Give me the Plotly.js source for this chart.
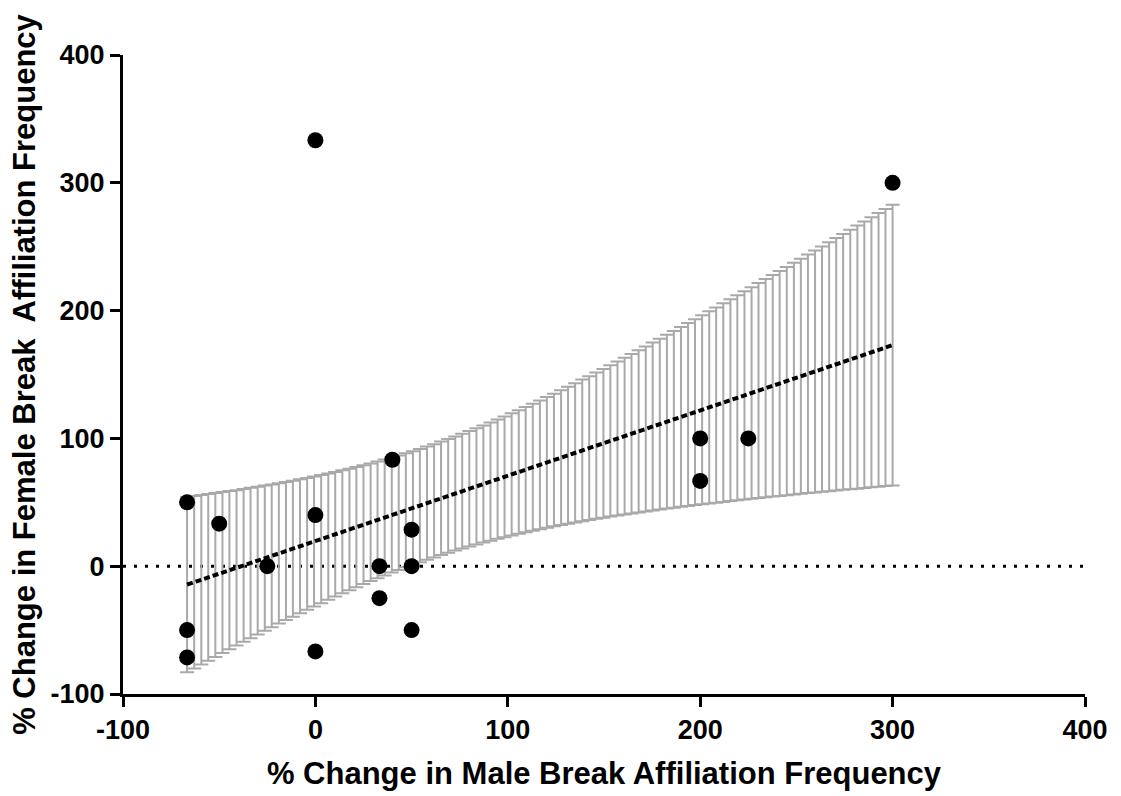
<!DOCTYPE html>
<html><head><meta charset="utf-8">
<script src="https://cdn.plot.ly/plotly-3.0.1.min.js"></script>
<style>html,body{margin:0;padding:0;background:#fff}#chart{width:1121px;height:796px}</style>
</head><body><div id="chart"></div>
<script>
// Scatter data: % change in male vs female break affiliation frequency
const maleChange = [-66.7,-66.7,-66.7,-50,-25,0,0,0,33.3,33.3,40,50,50,50,200,200,225,300];
const femaleChange = [50,-50,-71.4,33.3,0,333.3,40,-66.7,0,-25,83.3,28.6,0,-50,100,66.7,100,300];

// Linear fit endpoints
const fitX = [-66.7, 300];
const fitY = [-14.4, 173.0];

// 95% confidence band
const bandX = [-66.7,-63.0,-59.3,-55.7,-52.0,-48.3,-44.7,-41.0,-37.3,-33.7,
-30.0,-26.3,-22.7,-19.0,-15.3,-11.7,-8.0,-4.3,-0.7,3.0,
6.7,10.3,14.0,17.7,21.3,25.0,28.7,32.3,36.0,39.7,
43.3,47.0,50.7,54.3,58.0,61.7,65.3,69.0,72.7,76.3,
80.0,83.7,87.3,91.0,94.7,98.3,102.0,105.7,109.3,113.0,
116.7,120.3,124.0,127.7,131.3,135.0,138.7,142.3,146.0,149.7,
153.3,157.0,160.7,164.3,168.0,171.7,175.3,179.0,182.7,186.3,
190.0,193.7,197.3,201.0,204.7,208.3,212.0,215.7,219.3,223.0,
226.7,230.3,234.0,237.7,241.3,245.0,248.7,252.3,256.0,259.7,
263.3,267.0,270.7,274.3,278.0,281.7,285.3,289.0,292.7,296.3,
300.0];
const bandUpper = [54.2,55.0,55.7,56.4,57.2,58.0,58.8,59.5,60.4,61.3,
62.2,63.1,64.0,64.9,65.9,66.9,68.0,69.0,70.1,71.3,
72.5,73.7,75.0,76.2,77.6,79.0,80.4,81.9,83.4,85.0,
86.6,88.3,90.0,91.7,93.6,95.5,97.5,99.5,101.4,103.6,
105.7,108.0,110.1,112.4,114.8,117.1,119.6,122.1,124.6,127.1,
129.7,132.3,135.0,137.7,140.4,143.2,146.0,148.7,151.5,154.4,
157.2,160.2,163.1,166.1,169.0,172.0,175.0,178.0,181.1,184.0,
187.1,190.2,193.2,196.4,199.5,202.5,205.7,208.8,212.0,215.2,
218.3,221.5,224.7,227.9,231.0,234.2,237.5,240.6,243.8,247.1,
250.2,253.5,256.8,260.0,263.3,266.5,269.8,273.1,276.4,279.5,
282.8];
const bandLower = [-83.0,-80.0,-76.9,-74.0,-71.0,-68.0,-65.0,-62.1,-59.2,-56.3,
-53.4,-50.5,-47.8,-44.9,-42.1,-39.5,-36.8,-34.0,-31.5,-28.9,
-26.3,-23.7,-21.2,-18.8,-16.4,-14.0,-11.6,-9.5,-7.2,-5.0,
-3.0,-0.9,1.2,3.1,5.0,6.9,8.7,10.5,12.2,13.8,
15.5,17.0,18.5,20.0,21.4,22.7,24.0,25.3,26.6,27.7,
28.9,30.1,31.2,32.3,33.2,34.2,35.2,36.1,37.1,38.0,
38.8,39.6,40.5,41.3,42.0,42.8,43.6,44.4,45.1,45.8,
46.5,47.2,47.8,48.4,49.1,49.7,50.3,51.0,51.6,52.2,
52.7,53.3,53.9,54.5,55.0,55.6,56.1,56.6,57.2,57.7,
58.2,58.7,59.2,59.8,60.3,60.7,61.2,61.7,62.2,62.7,
63.2];

const xTicks = [-100, 0, 100, 200, 300, 400];
const yTicks = [-100, 0, 100, 200, 300, 400];
const xTitle = '% Change in Male Break Affiliation Frequency';
const yTitle = '% Change in Female Break  Affiliation Frequency';

const FONT = '"Liberation Sans", Arial, Helvetica, sans-serif';

const bandTrace = {
  x: bandX,
  y: bandLower,
  type: 'scatter',
  mode: 'markers',
  marker: {size: 1, opacity: 0, color: '#a8a8a8'},
  error_y: {
    type: 'data',
    symmetric: false,
    array: bandUpper.map((u, i) => u - bandLower[i]),
    arrayminus: bandLower.map(() => 0),
    color: '#a9a9a9',
    thickness: 2,
    width: 7
  },
  hoverinfo: 'skip',
  showlegend: false
};

const fitTrace = {
  x: fitX,
  y: fitY,
  type: 'scatter',
  mode: 'lines',
  line: {color: '#000', width: 4, dash: '6px,3px'},
  showlegend: false
};

const pointTrace = {
  x: maleChange,
  y: femaleChange,
  type: 'scatter',
  mode: 'markers',
  marker: {color: '#000', size: 16},
  showlegend: false
};

const axisCommon = {
  showline: true,
  linewidth: 3,
  linecolor: '#000',
  ticks: 'outside',
  ticklen: 10,
  tickwidth: 3,
  tickcolor: '#000',
  showgrid: false,
  zeroline: false,
  tickfont: {family: FONT, size: 27, color: '#000', weight: 'bold'},
  automargin: false
};

const layout = {
  width: 1121,
  height: 796,
  margin: {l: 123, r: 36, t: 55, b: 102, pad: 0},
  paper_bgcolor: '#fff',
  plot_bgcolor: '#fff',
  font: {family: FONT, color: '#000'},
  showlegend: false,
  xaxis: Object.assign({}, axisCommon, {
    range: [-100, 400],
    tickvals: xTicks,
    ticktext: xTicks.map(String),
    title: {text: xTitle, font: {family: FONT, size: 31, color: '#000', weight: 'bold'}, standoff: 18}
  }),
  yaxis: Object.assign({}, axisCommon, {
    range: [-100, 400],
    tickvals: yTicks,
    ticktext: yTicks.map(String),
    title: {text: yTitle, font: {family: FONT, size: 31, color: '#000', weight: 'bold'}, standoff: 6}
  }),
  shapes: [{
    type: 'line', xref: 'paper', x0: 0, x1: 1, yref: 'y', y0: 0, y1: 0,
    line: {color: '#000', width: 3, dash: '3px,8px'},
    layer: 'below'
  }]
};

Plotly.newPlot('chart', [bandTrace, fitTrace, pointTrace], layout, {displayModeBar: false, staticPlot: true});
</script>
</body></html>
